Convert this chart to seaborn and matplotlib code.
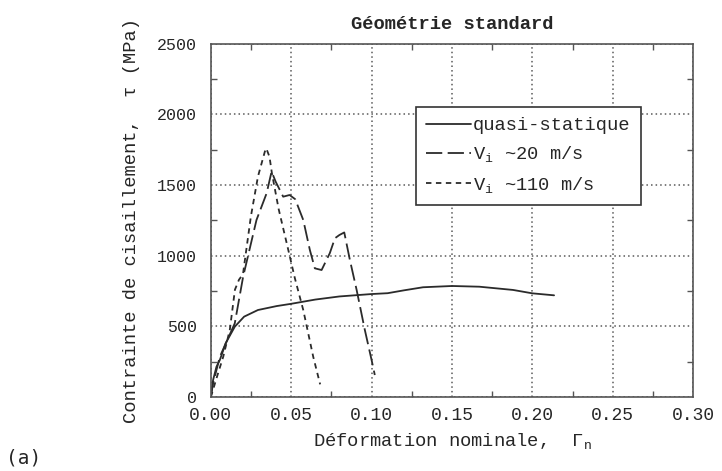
'''
Courbes contrainte-deformation en cisaillement
Geometrie standard: quasi-statique vs dynamique
'''

#%% Modules
import numpy as np
import pandas as pd
import matplotlib
matplotlib.use("Agg")
import matplotlib.pyplot as plt
from matplotlib.ticker import MultipleLocator
import seaborn as sb

#%% Donnees
x_qs = [0.0, 0.0014, 0.0035, 0.0056, 0.0092, 0.0149, 0.0207, 0.0293, 0.041,
        0.05, 0.065, 0.08, 0.10, 0.11, 0.12, 0.132, 0.15, 0.167, 0.188,
        0.20, 0.2135]
y_qs = [0, 120, 214, 262, 380, 498, 569, 616, 644,
        660, 690, 712, 729, 735, 755, 777, 786, 781, 758,
        734, 720]

x_v20 = [0.0, 0.0014, 0.0056, 0.0149, 0.0201, 0.0284, 0.0347, 0.0378, 0.0403,
         0.045, 0.049, 0.0525, 0.0575, 0.0616, 0.0647, 0.0689, 0.074, 0.0772,
         0.080, 0.083, 0.0865, 0.0907, 0.0958, 0.100, 0.102]
y_v20 = [0, 97, 285, 522, 852, 1253, 1442, 1596, 1525,
         1418, 1430, 1400, 1253, 1041, 911, 899, 1018, 1124,
         1147, 1165, 970, 758, 475, 262, 156]

x_v110 = [0.0, 0.004, 0.0077, 0.0118, 0.015, 0.0175, 0.02, 0.0249, 0.0293,
          0.0336, 0.0345, 0.0365, 0.038, 0.0422, 0.048, 0.0523, 0.0575,
          0.0637, 0.068]
y_v110 = [0, 150, 285, 475, 760, 830, 870, 1277, 1560,
          1737, 1760, 1700, 1584, 1330, 1050, 840, 616,
          285, 90]

labels = ["quasi-statique", r"V$_\mathregular{i}$ ~20 m/s",
          r"V$_\mathregular{i}$ ~110 m/s"]
xticks = [0.00, 0.05, 0.10, 0.15, 0.20, 0.25, 0.30]
yticks = [0, 500, 1000, 1500, 2000, 2500]

#%% Style
sb.set_theme(style="ticks")
plt.rcParams['font.family'] = ['Liberation Mono', 'DejaVu Sans']
plt.rcParams['mathtext.fontset'] = 'custom'
plt.rcParams['mathtext.rm'] = 'Liberation Mono'
plt.rcParams['mathtext.it'] = 'Liberation Mono'

#%% Figure
fig, ax = plt.subplots(figsize=(7.22, 4.71), dpi=100)
fig.subplots_adjust(left=0.292, right=0.960, bottom=0.157, top=0.907)

cor = "#2b2b2b"
sb.lineplot(x=x_qs, y=y_qs, ax=ax, color=cor, lw=1.3, sort=False,
            estimator=None, label=labels[0])
sb.lineplot(x=x_v20, y=y_v20, ax=ax, color=cor, lw=1.3, sort=False,
            estimator=None, label=labels[1], linestyle=(0, (9, 3)))
sb.lineplot(x=x_v110, y=y_v110, ax=ax, color=cor, lw=1.3, sort=False,
            estimator=None, label=labels[2], linestyle=(0, (3, 2.5)))

ax.set_xlim(0, 0.30)
ax.set_ylim(0, 2500)
ax.set_xticks(xticks)
ax.set_yticks(yticks)
ax.set_xticklabels([f"{t:.2f}" for t in xticks])
ax.xaxis.set_minor_locator(MultipleLocator(0.025))
ax.yaxis.set_minor_locator(MultipleLocator(250))
ax.tick_params(which='both', direction='in', top=True, right=True,
               color='#555555', width=1.0)
ax.tick_params(which='major', length=0)
ax.tick_params(which='minor', length=4)
ax.tick_params(axis='x', labelsize=13, pad=7)
ax.tick_params(axis='y', labelsize=12, pad=10)

ax.grid(True, which='major', color='#5a5a5a', linestyle=(0, (1, 2)), lw=1.1)
for s in ax.spines.values():
    s.set_color('#555555')
    s.set_linewidth(1.2)

ax.set_xlabel(r"Déformation nominale,  $\Gamma_\mathregular{n}$", fontsize=13.5,
              labelpad=5)
ax.set_ylabel("Contrainte de cisaillement,  τ (MPa)", fontsize=13.5, labelpad=12)
ax.set_title("Géométrie standard", fontsize=13.5, fontweight='bold', pad=11)

leg = ax.legend(loc='upper left', bbox_to_anchor=(0.425, 0.822),
                borderaxespad=0, fancybox=False, framealpha=1,
                edgecolor='#333333', fontsize=13.5, handlelength=2.4,
                handletextpad=0.1, labelspacing=0.55, borderpad=0.55)
leg.get_frame().set_linewidth(1.2)

fig.text(0.008, 0.027, "(a)", fontsize=14, family='DejaVu Sans Mono',
         va='center')

fig.savefig("out.png", dpi=100)
